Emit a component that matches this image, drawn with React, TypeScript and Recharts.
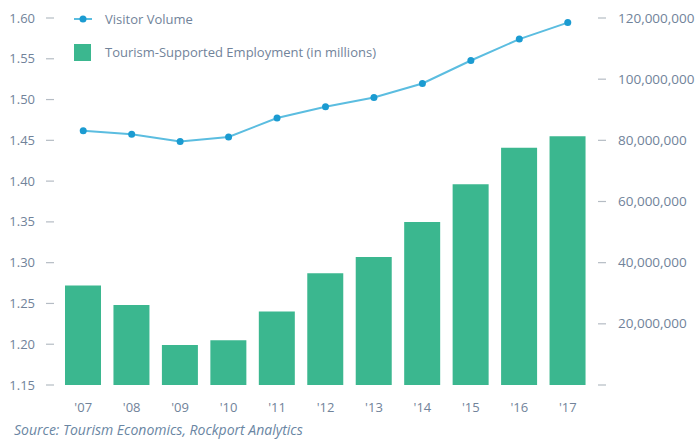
import { ComposedChart, Bar, Line, XAxis, YAxis } from 'recharts';

const years = ["'07", "'08", "'09", "'10", "'11", "'12", "'13", "'14", "'15", "'16", "'17"];
const employment = [1.272, 1.248, 1.199, 1.205, 1.24, 1.287, 1.307, 1.35, 1.396, 1.441, 1.455];
const visitors = [83100000, 82000000, 79600000, 81100000, 87300000, 91000000, 94000000, 98600000, 106100000, 113100000, 118500000];
const leftTicks = [1.15, 1.2, 1.25, 1.3, 1.35, 1.4, 1.45, 1.5, 1.55, 1.6];
const rightTicks = [0, 20000000, 40000000, 60000000, 80000000, 100000000, 120000000];

const data = years.map((year, i) => ({ year, employment: employment[i], visitors: visitors[i] }));

const textColor = '#71839a';
const font = '"Open Sans", sans-serif';

const LeftTick = (props: any) => {
    const { x, y, payload } = props;
    return (
        <g>
            <line x1={x - 13} x2={x - 5} y1={y} y2={y} stroke="#b5bcc4" strokeWidth={1.2} />
            <text x={x - 24} y={y} dy={4.5} textAnchor="end" fill={textColor} fontSize={13} fontFamily={font}>
                {payload.value.toFixed(2)}
            </text>
        </g>
    );
};

const RightTick = (props: any) => {
    const { x, y, payload } = props;
    return (
        <g>
            <line x1={x + 6} x2={x + 14} y1={y} y2={y} stroke="#b5bcc4" strokeWidth={1.2} />
            {payload.value !== 0 && (
                <text x={x + 26} y={y} dy={4.5} textAnchor="start" fill={textColor} fontSize={13.5} fontFamily={font}>
                    {payload.value.toLocaleString('en-US')}
                </text>
            )}
        </g>
    );
};

const App = () => {
    return (
        <div style={{ position: 'absolute', left: 0, top: 0, width: 698, height: 439, background: '#fff' }}>
            <ComposedChart width={698} height={439} data={data} margin={{ top: 18, right: 0, bottom: 0, left: 0 }}>
                <XAxis
                    dataKey="year"
                    axisLine={false}
                    tickLine={false}
                    tickMargin={12}
                    height={54}
                    tick={{ fill: textColor, fontSize: 13, fontFamily: font }}
                />
                <YAxis
                    yAxisId="left"
                    domain={[1.15, 1.6]}
                    ticks={leftTicks}
                    width={59}
                    axisLine={false}
                    tickLine={false}
                    tickSize={0}
                    tickMargin={0}
                    tick={<LeftTick />}
                    interval={0}
                />
                <YAxis
                    yAxisId="right"
                    orientation="right"
                    domain={[0, 120000000]}
                    ticks={rightTicks}
                    width={106}
                    axisLine={false}
                    tickLine={false}
                    tickSize={0}
                    tickMargin={0}
                    tick={<RightTick />}
                    interval={0}
                />
                <Bar yAxisId="left" dataKey="employment" fill="#3bb78f" barSize={36} isAnimationActive={false} />
                <Line
                    yAxisId="right"
                    dataKey="visitors"
                    stroke="#5bbde0"
                    strokeWidth={2}
                    dot={{ r: 3.5, fill: '#1b9bd1', stroke: '#1b9bd1', strokeWidth: 0 }}
                    activeDot={false}
                    isAnimationActive={false}
                />
            </ComposedChart>
            <div style={{ position: 'absolute', left: 74, top: 10, fontFamily: font, fontSize: 13, color: textColor }}>
                <div style={{ display: 'flex', alignItems: 'center', height: 18 }}>
                    <svg width={18} height={10} style={{ marginRight: 13 }}>
                        <line x1={0} x2={18} y1={5} y2={5} stroke="#5bbde0" strokeWidth={2} />
                        <circle cx={9} cy={5} r={3.5} fill="#1b9bd1" />
                    </svg>
                    <span>Visitor Volume</span>
                </div>
                <div style={{ display: 'flex', alignItems: 'center', height: 18, marginTop: 15 }}>
                    <div style={{ width: 17, height: 17, background: '#3bb78f', marginRight: 14 }} />
                    <span>Tourism-Supported Employment (in millions)</span>
                </div>
            </div>
            <div
                style={{
                    position: 'absolute',
                    left: 14,
                    top: 420,
                    fontFamily: font,
                    fontSize: 14,
                    fontStyle: 'italic',
                    color: '#6a86a3',
                }}
            >
                Source: Tourism Economics, Rockport Analytics
            </div>
        </div>
    );
};

export default App;
